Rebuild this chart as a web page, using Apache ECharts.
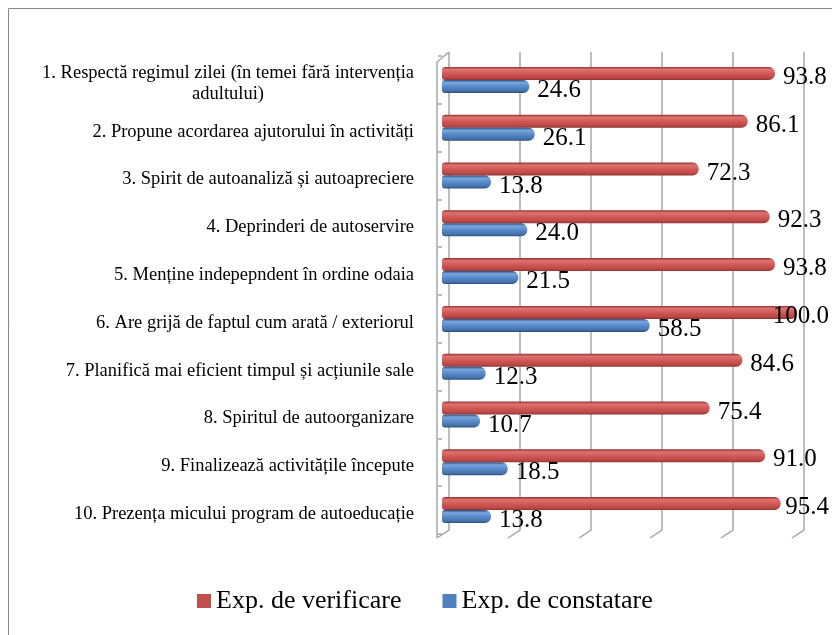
<!DOCTYPE html>
<html lang="ro">
<head>
    <meta charset="UTF-8">
    <title>Exp. de verificare / constatare</title>
    <script src="https://cdn.jsdelivr.net/npm/echarts@6/dist/echarts.min.js"></script>
    <style>
        body { margin: 0; background: #fff; }
    </style>
</head>
<body>
<div id="main" style="width: 832px;height:635px;"></div>

<script type="text/javascript">
    // categorii (de sus in jos)
    var categories = [
        '1. Respectă regimul zilei (în temei fără intervenția\nadultului)',
        '2. Propune acordarea ajutorului în activități',
        '3. Spirit de autoanaliză și autoapreciere',
        '4. Deprinderi de autoservire',
        '5. Menține indepepndent în ordine odaia',
        '6. Are grijă de faptul cum arată / exteriorul',
        '7. Planifică mai eficient timpul și acțiunile sale',
        '8. Spiritul de autoorganizare',
        '9. Finalizează activitățile începute',
        '10. Prezența micului program de autoeducație'
    ];
    var seriesNames = ['Exp. de verificare', 'Exp. de constatare'];
    var verificare = [93.8, 86.1, 72.3, 92.3, 93.8, 100.0, 84.6, 75.4, 91.0, 95.4];
    var constatare = [24.6, 26.1, 13.8, 24.0, 21.5, 58.5, 12.3, 10.7, 18.5, 13.8];
    var xTicks = [0, 20, 40, 60, 80, 100];

    var font = 'Liberation Serif, Times New Roman, serif';
    var gridColor = '#A6A6A6';

    function cylinder(dark, light, mid, edge) {
        return new echarts.graphic.LinearGradient(0, 0, 0, 1, [
            { offset: 0, color: edge },
            { offset: 0.2, color: light },
            { offset: 0.55, color: mid },
            { offset: 0.85, color: dark },
            { offset: 1, color: edge }
        ]);
    }

    // peretii 3D si liniile de grila
    function renderWalls(params, api) {
        var cs = params.coordSys;
        var v = api.value(0);
        var x = api.coord([v, 0])[0];
        var top = cs.y, bot = cs.y + cs.height;
        var style = { stroke: gridColor, lineWidth: 1.5, fill: null };
        var children = [{
            type: 'polyline',
            shape: { points: [[x + 7, top - 4], [x + 7, bot - 4], [x - 5, bot + 4]] },
            style: style
        }];
        if (v === 0) {
            children.push({
                type: 'polyline',
                shape: { points: [[x + 7, top - 4], [x - 5, top + 6], [x - 5, bot + 4]] },
                style: style
            });
        }
        return { type: 'group', children: children };
    }

    function valueLabelLayout(p) {
        var r = p.labelRect;
        return {
            x: Math.min(r.x, 829 - r.width),
            y: r.y + r.height / 2 + 4,
            align: 'left',
            verticalAlign: 'middle'
        };
    }

    var valueLabel = {
        show: true,
        position: 'right',
        distance: 8,
        fontSize: 25,
        fontFamily: font,
        color: '#000',
        formatter: function (p) { return p.value.toFixed(1); }
    };

    var myChart = echarts.init(document.getElementById('main'));

    var option = {
        animation: false,
        textStyle: { fontFamily: font },
        graphic: [{
            type: 'rect',
            shape: { x: 8.5, y: 8.5, width: 900, height: 700 },
            style: { fill: 'none', stroke: '#868686', lineWidth: 1 },
            z: -10
        }],
        grid: { left: 442, width: 355, top: 56, height: 478 },
        legend: {
            left: 192,
            top: 583,
            itemWidth: 14,
            itemHeight: 14,
            itemGap: 41,
            icon: 'rect',
            textStyle: { fontSize: 26, fontFamily: font, color: '#000' },
            data: [
                { name: seriesNames[0], itemStyle: { color: '#C0504D' } },
                { name: seriesNames[1], itemStyle: { color: '#4F81BD' } }
            ]
        },
        xAxis: {
            type: 'value',
            min: 0,
            max: 100,
            interval: 20,
            axisLabel: { show: false },
            axisLine: { show: false },
            axisTick: { show: false },
            splitLine: { show: false }
        },
        yAxis: {
            type: 'category',
            data: categories,
            inverse: true,
            offset: 5,
            axisLine: { show: false },
            axisTick: { show: true, length: 4, lineStyle: { color: gridColor, width: 1.5 } },
            axisLabel: {
                interval: 0,
                margin: 23,
                color: '#000',
                padding: [8, 0, 0, 0],
                formatter: function (v) {
                    return v.split('\n').map(function (l) { return '{c|' + l + '}'; }).join('\n');
                },
                rich: {
                    c: { align: 'center', fontSize: 18.5, lineHeight: 21, fontFamily: font, color: '#000' }
                }
            }
        },
        series: [
            {
                type: 'custom',
                renderItem: renderWalls,
                data: xTicks.map(function (t) { return [t, 0]; }),
                encode: { x: 0, y: 1 },
                clip: false,
                silent: true,
                z: 0
            },
            {
                name: seriesNames[0],
                type: 'bar',
                data: verificare,
                barWidth: 13,
                barGap: '0%',
                z: 2,
                itemStyle: {
                    color: cylinder('#B84845', '#DE7370', '#D05653', '#8E3331'),
                    borderRadius: [3, 6, 6, 3]
                },
                label: valueLabel,
                labelLayout: valueLabelLayout
            },
            {
                name: seriesNames[1],
                type: 'bar',
                data: constatare,
                barWidth: 13,
                z: 2,
                itemStyle: {
                    color: cylinder('#4472AA', '#78A5DE', '#5588C8', '#2C4D78'),
                    borderRadius: [3, 6, 6, 3]
                },
                label: valueLabel,
                labelLayout: valueLabelLayout
            }
        ]
    };

    myChart.setOption(option);
</script>
</body>
</html>
